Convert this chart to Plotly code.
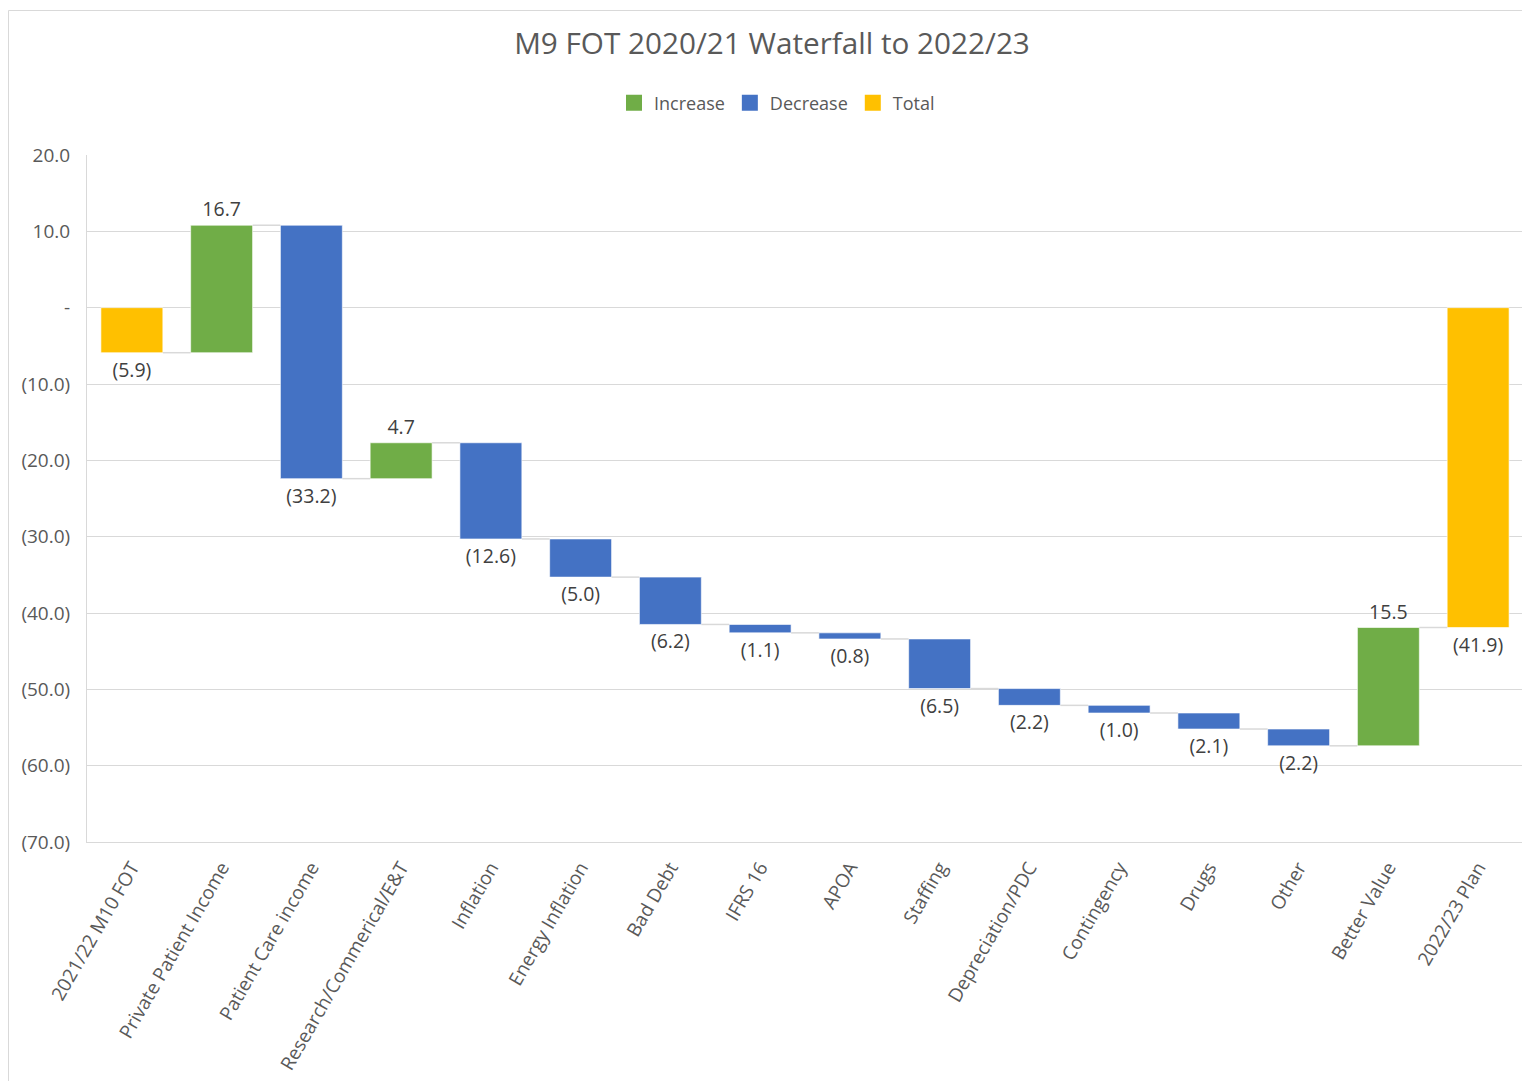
import plotly.graph_objects as go

categories = ["2021/22 M10 FOT", "Private Patient Income", "Patient Care income",
              "Research/Commerical/E&T", "Inflation", "Energy Inflation", "Bad Debt",
              "IFRS 16", "APOA", "Staffing", "Depreciation/PDC", "Contingency",
              "Drugs", "Other", "Better Value", "2022/23 Plan"]
changes = [-5.9, 16.7, -33.2, 4.7, -12.6, -5.0, -6.2, -1.1, -0.8, -6.5, -2.2, -1.0,
           -2.1, -2.2, 15.5, -41.9]
kinds = ["total", "rel", "rel", "rel", "rel", "rel", "rel", "rel", "rel", "rel",
         "rel", "rel", "rel", "rel", "rel", "total"]
y_ticks = [20, 10, 0, -10, -20, -30, -40, -50, -60, -70]

GREEN, BLUE, GOLD = "#70AD47", "#4472C4", "#FFC000"
TXT = "#595959"
FONT = "Open Sans"

W, H = 1530, 1081
ML, MR, MT, MB = 79, 15, 147, 247
PW, PH = W - ML - MR, H - MT - MB


def fmt(v):
    if abs(v) < 1e-9:
        return "-"
    return f"({abs(v):.1f})" if v < 0 else f"{v:.1f}"


xs = list(range(len(categories)))
bases, heights, ends = [], [], []
cum = 0.0
for v, k in zip(changes, kinds):
    if k == "total":
        bases.append(0.0)
        heights.append(v)
        cum = v
    else:
        bases.append(cum)
        heights.append(v)
        cum = cum + v
    ends.append(cum)

groups = {
    "Increase": (GREEN, lambda v, k: k == "rel" and v > 0),
    "Decrease": (BLUE, lambda v, k: k == "rel" and v < 0),
    "Total": (GOLD, lambda v, k: k == "total"),
}

BW = 0.69
fig = go.Figure()
for name, (col, pred) in groups.items():
    idx = [i for i in xs if pred(changes[i], kinds[i])]
    fig.add_trace(go.Bar(
        name=name,
        x=[xs[i] for i in idx],
        y=[heights[i] for i in idx],
        base=[bases[i] for i in idx],
        text=[fmt(changes[i]) for i in idx],
        textposition="outside",
        textfont=dict(family=FONT, size=19.5, color="#404040"),
        marker=dict(color=col, line=dict(color="rgba(255,255,255,0.6)", width=1)),
        width=BW,
        cliponaxis=False,
        showlegend=False,
        legendgroup=name,
    ))
    # legend swatch
    fig.add_trace(go.Scatter(
        name=name, x=[None], y=[None], mode="markers",
        marker=dict(symbol="square", size=18, color=col),
        legendgroup=name, showlegend=True,
    ))

# connector lines between bars
cx, cy = [], []
for i in range(len(xs) - 1):
    cx += [xs[i] + BW / 2, xs[i + 1] - BW / 2, None]
    cy += [ends[i], ends[i], None]
fig.add_trace(go.Scatter(x=cx, y=cy, mode="lines", showlegend=False,
                         line=dict(color="#D9D9D9", width=1.5), hoverinfo="skip"))

fig.update_layout(
    width=W, height=H,
    margin=dict(l=ML, r=MR, t=MT, b=MB),
    paper_bgcolor="white", plot_bgcolor="white",
    barmode="overlay",
    title=dict(text="M9 FOT 2020/21 Waterfall to 2022/23", x=764 / W, xanchor="center",
               y=1 - 36 / H, yanchor="middle",
               font=dict(family=FONT, size=29.7, color=TXT)),
    legend=dict(orientation="h", x=(769 - ML) / PW, xanchor="center",
                y=(MT + PH - 95) / PH, yanchor="middle",
                font=dict(family=FONT, size=18, color=TXT), traceorder="normal",
                itemsizing="trace", itemwidth=30),
    font=dict(family=FONT, color=TXT),
    showlegend=True,
)
fig.update_xaxes(
    range=[-0.5, len(xs) - 0.5], tickvals=xs, ticktext=categories, tickangle=-60,
    tickfont=dict(family=FONT, size=19, color=TXT), showgrid=False, zeroline=False,
    showline=True, linecolor="#D9D9D9", linewidth=1, ticks="", ticklabelstandoff=6,
)
fig.update_yaxes(
    range=[-70, 20], tickvals=y_ticks, ticktext=[fmt(t) for t in y_ticks],
    tickfont=dict(family=FONT, size=19, color=TXT), showgrid=True, gridcolor="#D9D9D9",
    gridwidth=1, zeroline=False, showline=True, linecolor="#D9D9D9", linewidth=1,
    ticks="", ticklabelstandoff=12,
)
# outer chart frame (right and bottom edges run off the picture)
fig.add_shape(type="rect", xref="paper", yref="paper",
              x0=(0.5 - ML) / PW, x1=(W + 20 - ML) / PW,
              y0=(MT + PH - (H + 20)) / PH, y1=(MT + PH - 2.5) / PH,
              line=dict(color="#D9D9D9", width=1), layer="below")

fig.write_html("out.html")
